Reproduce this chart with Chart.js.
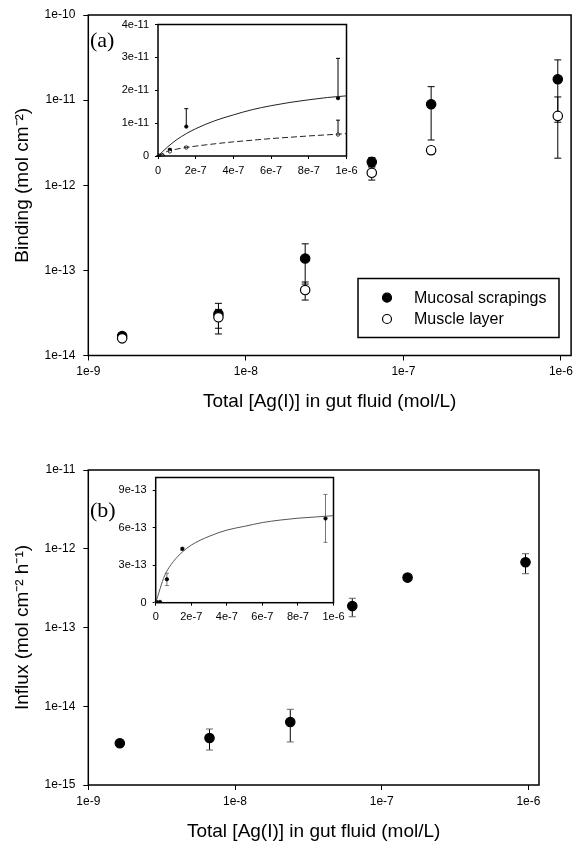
<!DOCTYPE html>
<html>
<head>
<meta charset="utf-8">
<script src="https://cdn.jsdelivr.net/npm/chart.js@4.4.1/dist/chart.umd.min.js"></script>
<style>
  body { margin: 0; background: #fff; }
  #wrap { position: relative; width: 577px; height: 844px; overflow: hidden; background: #fff; }
  canvas { position: absolute; }
  .tag { position: absolute; font-family: "Liberation Serif", "Times New Roman", serif; font-size: 22px; line-height: 22px; color: #000; }
</style>
</head>
<body>
<div id="wrap">
  <canvas id="mainA"></canvas>
  <canvas id="insetA"></canvas>
  <canvas id="mainB"></canvas>
  <canvas id="insetB"></canvas>
  <div class="tag" style="left:90px;top:29px">(a)</div>
  <div class="tag" style="left:90px;top:499px">(b)</div>
</div>
<script>
// total Ag(I) in gut fluid, mol/L
const conc = [1.64e-9, 6.7e-9, 2.38e-8, 6.3e-8, 1.5e-7, 9.55e-7];

// binding, mol cm-2 (panel a)
const mucosal = [1.69e-14, 3.07e-14, 1.38e-13, 1.88e-12, 8.95e-12, 1.76e-11];
const mucosalLo = [1.6e-14, 1.79e-14, 6.9e-14, 1.64e-12, 3.4e-12, 5.5e-12];
const mucosalHi = [1.78e-14, 4.1e-14, 2.05e-13, 2.12e-12, 1.44e-11, 2.97e-11];
const muscle = [1.59e-14, 2.81e-14, 5.87e-14, 1.4e-12, 2.58e-12, 6.53e-12];
const muscleLo = [1.5e-14, 2.09e-14, 4.48e-14, 1.15e-12, 2.32e-12, 2.08e-12];
const muscleHi = [1.68e-14, 3.48e-14, 7.3e-14, 1.65e-12, 2.84e-12, 1.09e-11];

// influx, mol cm-2 h-1 (panel b)
const influx = [3.39e-15, 3.95e-15, 6.31e-15, 1.87e-13, 4.3e-13, 6.73e-13];
const influxLo = [3.3e-15, 2.78e-15, 3.52e-15, 1.37e-13, 4.18e-13, 4.82e-13];
const influxHi = [3.48e-15, 5.14e-15, 9.15e-15, 2.35e-13, 4.42e-13, 8.65e-13];

// fitted curves
const fitX = [0, 0.05e-6, 0.1e-6, 0.15e-6, 0.2e-6, 0.3e-6, 0.4e-6, 0.5e-6, 0.6e-6, 0.7e-6, 0.8e-6, 0.9e-6, 1e-6];
const fitMucosal = [0, 0.27e-11, 0.5e-11, 0.68e-11, 0.83e-11, 1.07e-11, 1.25e-11, 1.41e-11, 1.53e-11, 1.63e-11, 1.71e-11, 1.78e-11, 1.83e-11];
const fitMuscle = [0, 0.14e-11, 0.21e-11, 0.26e-11, 0.3e-11, 0.37e-11, 0.43e-11, 0.48e-11, 0.53e-11, 0.57e-11, 0.61e-11, 0.645e-11, 0.68e-11];
const fitInflux = [0, 2.15e-13, 3.3e-13, 4.05e-13, 4.6e-13, 5.3e-13, 5.8e-13, 6.1e-13, 6.4e-13, 6.6e-13, 6.75e-13, 6.85e-13, 6.95e-13];

// ticks
const logXTicks = [1e-9, 1e-8, 1e-7, 1e-6];
const logXLabels = ["1e-9", "1e-8", "1e-7", "1e-6"];
const bindTicks = [1e-14, 1e-13, 1e-12, 1e-11, 1e-10];
const bindLabels = ["1e-14", "1e-13", "1e-12", "1e-11", "1e-10"];
const influxTicks = [1e-15, 1e-14, 1e-13, 1e-12, 1e-11];
const influxLabels = ["1e-15", "1e-14", "1e-13", "1e-12", "1e-11"];
const linXTicks = [0, 2e-7, 4e-7, 6e-7, 8e-7, 1e-6];
const linXLabels = ["0", "2e-7", "4e-7", "6e-7", "8e-7", "1e-6"];
const insetATicks = [0, 1e-11, 2e-11, 3e-11, 4e-11];
const insetALabels = ["0", "1e-11", "2e-11", "3e-11", "4e-11"];
const insetBTicks = [0, 3e-13, 6e-13, 9e-13];
const insetBLabels = ["0", "3e-13", "6e-13", "9e-13"];

const legendNames = ["Mucosal scrapings", "Muscle layer"];

Chart.defaults.font.family = "'Liberation Sans', Arial, Helvetica, sans-serif";
Chart.defaults.color = "#000";
Chart.defaults.animation = false;

function place(id, left, top, w, h) {
  const c = document.getElementById(id);
  c.width = w;
  c.height = h;
  c.style.left = left + "px";
  c.style.top = top + "px";
  return c;
}

function pts(xs, ys) {
  return xs.map((x, i) => ({ x: x, y: ys[i] }));
}

function axis(o) {
  return {
    type: o.type,
    position: o.position,
    min: o.min,
    max: o.max,
    afterBuildTicks: (s) => { s.ticks = o.ticks.map((v) => ({ value: v })); },
    afterFit: (s) => {
      if (o.position === "left") s.width = o.size; else s.height = o.size;
      s.paddingLeft = 0; s.paddingRight = 0; s.paddingTop = 0; s.paddingBottom = 0;
    },
    ticks: {
      callback: (v, i) => o.labels[i],
      font: { size: o.font },
      padding: o.pad,
      autoSkip: false,
      maxRotation: 0,
      minRotation: 0,
    },
    grid: { drawOnChartArea: false, drawTicks: true, tickLength: o.tick, color: "#000", lineWidth: 1 },
    border: { display: false },
    title: o.title
      ? { display: true, text: o.title, font: { size: 19 }, color: "#000", padding: o.titlePad }
      : { display: false },
  };
}

// draws error bars from errLo/errHi arrays kept on the dataset
const errorBars = {
  id: "errorBars",
  beforeDatasetsDraw(chart) {
    const ctx = chart.ctx;
    const xs = chart.scales.x, ys = chart.scales.y;
    chart.data.datasets.forEach((ds) => {
      if (!ds.errHi) return;
      ctx.save();
      ctx.lineWidth = 1;
      ds.data.forEach((p, j) => {
        const px = xs.getPixelForValue(p.x);
        const top = ys.getPixelForValue(ds.errHi[j]);
        const bot = ds.errLo ? ys.getPixelForValue(ds.errLo[j]) : ys.getPixelForValue(p.y);
        ctx.strokeStyle = ds.errColor;
        ctx.beginPath();
        ctx.moveTo(px, top);
        ctx.lineTo(px, bot);
        ctx.stroke();
        ctx.strokeStyle = ds.capColor || ds.errColor;
        ctx.beginPath();
        ctx.moveTo(px - ds.cap, top);
        ctx.lineTo(px + ds.cap, top);
        if (ds.errLo) {
          ctx.moveTo(px - ds.cap, bot);
          ctx.lineTo(px + ds.cap, bot);
        }
        ctx.stroke();
      });
      ctx.restore();
    });
  },
};

const frame = {
  id: "frame",
  afterDraw(chart, args, o) {
    const a = chart.chartArea, ctx = chart.ctx;
    ctx.save();
    ctx.strokeStyle = "#000";
    ctx.lineWidth = o.width || 1.5;
    ctx.strokeRect(a.left, a.top, a.right - a.left, a.bottom - a.top);
    ctx.restore();
  },
};

const boxLegend = {
  id: "boxLegend",
  afterDraw(chart, args, o) {
    if (!o.show) return;
    const ctx = chart.ctx;
    ctx.save();
    ctx.strokeStyle = "#000";
    ctx.lineWidth = 1.5;
    ctx.strokeRect(o.x, o.y, o.w, o.h);
    ctx.font = "16px 'Liberation Sans', Arial, sans-serif";
    ctx.textBaseline = "middle";
    ctx.fillStyle = "#000";
    chart.data.datasets.forEach((ds, i) => {
      const cy = o.rowY[i];
      ctx.beginPath();
      ctx.arc(o.markX, cy, 4.5, 0, Math.PI * 2);
      ctx.fillStyle = ds.backgroundColor;
      ctx.fill();
      ctx.lineWidth = 1.2;
      ctx.strokeStyle = "#000";
      ctx.stroke();
      ctx.fillStyle = "#000";
      ctx.fillText(legendNames[i], o.textX, cy + 1);
    });
    ctx.restore();
  },
};

function pointSet(xs, ys, lo, hi, filled, r, o) {
  return Object.assign({
    data: pts(xs, ys),
    showLine: false,
    pointRadius: r,
    pointBorderWidth: 1.2,
    backgroundColor: filled ? "#000" : "#fff",
    borderColor: "#000",
    pointBackgroundColor: filled ? "#000" : "#fff",
    pointBorderColor: "#000",
    errLo: lo,
    errHi: hi,
    errColor: "#000",
    cap: 3.5,
  }, o || {});
}

function curve(ys, dash, color) {
  return {
    data: pts(fitX, ys),
    showLine: true,
    pointRadius: 0,
    borderColor: color,
    borderWidth: 1,
    borderDash: dash,
    cubicInterpolationMode: "monotone",
    fill: false,
  };
}

const common = {
  responsive: false,
  events: [],
  plugins: { legend: { display: false }, tooltip: { enabled: false } },
};

// panel (a) main
new Chart(place("mainA", 0, 0, 577, 425), {
  type: "scatter",
  data: {
    datasets: [
      pointSet(conc, mucosal, mucosalLo, mucosalHi, true, 4.7, { order: 2 }),
      pointSet(conc, muscle, muscleLo, muscleHi, false, 4.7, { order: 1 }),
    ],
  },
  options: Object.assign({}, common, {
    layout: { padding: { top: 15, right: 5, left: 0, bottom: 0 } },
    plugins: Object.assign({}, common.plugins, {
      frame: { width: 1.5 },
      boxLegend: { show: true, x: 358, y: 278.5, w: 201, h: 59, markX: 387, textX: 414, rowY: [297.7, 319] },
    }),
    scales: {
      x: axis({ type: "logarithmic", position: "bottom", min: 1e-9, max: 1.16e-6, ticks: logXTicks, labels: logXLabels,
        size: 69.5, font: 12, pad: 4, tick: 5, title: "Total [Ag(I)] in gut fluid (mol/L)", titlePad: { top: 0, bottom: 12 } }),
      y: axis({ type: "logarithmic", position: "left", min: 1e-14, max: 1e-10, ticks: bindTicks, labels: bindLabels,
        size: 88.3, font: 12, pad: 8, tick: 5, title: "Binding (mol cm⁻²)", titlePad: { top: 11, bottom: 0 } }),
    },
  }),
  plugins: [errorBars, frame, boxLegend],
});

// panel (a) inset
new Chart(place("insetA", 104, 8, 256, 176), {
  type: "scatter",
  data: {
    datasets: [
      curve(fitMucosal, [], "#222"),
      curve(fitMuscle, [6, 3], "#222"),
      pointSet(conc, mucosal, null, mucosalHi, true, 1.7, { order: 2, pointBorderWidth: 0.8, cap: 2 }),
      pointSet(conc, muscle, null, muscleHi, false, 1.7, { order: 1, pointBorderWidth: 0.8, cap: 2 }),
    ],
  },
  options: Object.assign({}, common, {
    layout: { padding: { top: 16.5, right: 13.5, left: 0, bottom: 0 } },
    plugins: Object.assign({}, common.plugins, { frame: { width: 1.5 } }),
    scales: {
      x: axis({ type: "linear", position: "bottom", min: 0, max: 1e-6, ticks: linXTicks, labels: linXLabels,
        size: 28, font: 11, pad: 5, tick: 3 }),
      y: axis({ type: "linear", position: "left", min: 0, max: 4e-11, ticks: insetATicks, labels: insetALabels,
        size: 54, font: 11, pad: 6, tick: 3 }),
    },
  }),
  plugins: [errorBars, frame],
});

// panel (b) main
new Chart(place("mainB", 0, 425, 577, 419), {
  type: "scatter",
  data: {
    datasets: [
      pointSet(conc, influx, influxLo, influxHi, true, 4.7, { capColor: "#666" }),
    ],
  },
  options: Object.assign({}, common, {
    layout: { padding: { top: 45, right: 38, left: 0, bottom: 0 } },
    plugins: Object.assign({}, common.plugins, { frame: { width: 1.5 } }),
    scales: {
      x: axis({ type: "logarithmic", position: "bottom", min: 1e-9, max: 1.18e-6, ticks: logXTicks, labels: logXLabels,
        size: 59, font: 12, pad: 4, tick: 5, title: "Total [Ag(I)] in gut fluid (mol/L)", titlePad: { top: 0, bottom: 1 } }),
      y: axis({ type: "logarithmic", position: "left", min: 1e-15, max: 1e-11, ticks: influxTicks, labels: influxLabels,
        size: 88.3, font: 12, pad: 8, tick: 5, title: "Influx (mol cm⁻² h⁻¹)", titlePad: { top: 11, bottom: 0 } }),
    },
  }),
  plugins: [errorBars, frame],
});

// panel (b) inset
new Chart(place("insetB", 101, 465, 244, 167), {
  type: "scatter",
  data: {
    datasets: [
      curve(fitInflux, [], "#555"),
      pointSet(conc, influx, influxLo, influxHi, true, 1.7, { pointBorderWidth: 0.8, cap: 2, errColor: "#777" }),
    ],
  },
  options: Object.assign({}, common, {
    layout: { padding: { top: 12.5, right: 11.5, left: 0, bottom: 0 } },
    plugins: Object.assign({}, common.plugins, { frame: { width: 1.5 } }),
    scales: {
      x: axis({ type: "linear", position: "bottom", min: 0, max: 1e-6, ticks: linXTicks, labels: linXLabels,
        size: 29.3, font: 11, pad: 5, tick: 3 }),
      y: axis({ type: "linear", position: "left", min: 0, max: 1e-12, ticks: insetBTicks, labels: insetBLabels,
        size: 54.7, font: 11, pad: 6, tick: 3 }),
    },
  }),
  plugins: [errorBars, frame],
});
</script>
</body>
</html>
